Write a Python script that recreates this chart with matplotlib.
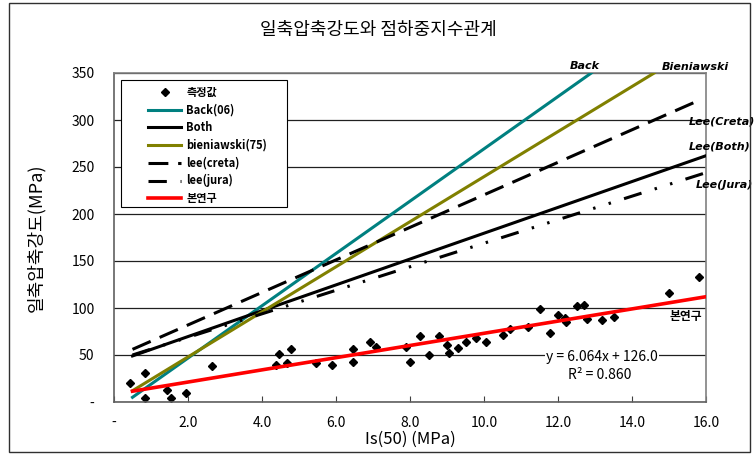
import matplotlib.pyplot as plt
from matplotlib.patches import Rectangle

plt.rcParams['font.family'] = ['Noto Sans CJK KR', 'DejaVu Sans']

# measured points: Is(50) vs UCS
is50 = [0.43, 0.84, 0.84, 1.44, 1.55, 1.94, 2.66,
        4.38, 4.46, 4.67, 4.78, 5.46, 5.88, 6.47, 6.47, 6.93, 7.07, 7.89,
        8.00, 8.28, 8.50, 8.78, 8.99, 9.06, 9.29, 9.50, 9.79, 10.06,
        10.50, 10.70, 11.20, 11.50, 11.78, 12.00, 12.19, 12.21, 12.50,
        12.70, 12.79, 13.20, 13.50, 15.00, 15.80]
ucs = [19.9, 30.5, 4.6, 12.8, 4.6, 9.9, 38.3,
       39.4, 50.7, 41.8, 56.4, 41.1, 39.0, 56.4, 42.6, 63.5, 58.2, 58.9,
       42.2, 70.2, 50.4, 70.2, 61.0, 52.5, 57.8, 63.5, 67.7, 63.5,
       71.0, 78.0, 80.0, 98.6, 73.7, 92.5, 89.7, 84.8, 102.0,
       103.0, 88.3, 87.2, 90.8, 116.0, 132.6]

# regression lines (end points)
back_x, back_y = [0.5, 12.9], [5, 350]
both_x, both_y = [0.5, 16.0], [49, 262]
bien_x, bien_y = [0.5, 14.6], [12, 350]
creta_x, creta_y = [0.5, 15.7], [56, 319]
jura_x, jura_y = [0.5, 16.0], [50, 244]
study_x, study_y = [0.5, 16.0], [11.5, 112]

xticks = [0, 2, 4, 6, 8, 10, 12, 14, 16]
xlabels = ['-', '2.0', '4.0', '6.0', '8.0', '10.0', '12.0', '14.0', '16.0']
yticks = [0, 50, 100, 150, 200, 250, 300, 350]
ylabels = ['-', '50', '100', '150', '200', '250', '300', '350']

fig = plt.figure(figsize=(7.56, 4.57), dpi=100)
ax = fig.add_axes([114 / 756, 1 - 402 / 457, 592 / 756, 329 / 457])

lw = 2.2
ax.plot(is50, ucs, 'D', color='black', ms=4, ls='none', label='측정값', zorder=2)
ax.plot(back_x, back_y, color='#008080', lw=lw, label='Back(06)', zorder=3)
ax.plot(both_x, both_y, color='black', lw=lw, label='Both', zorder=3)
ax.plot(bien_x, bien_y, color='#808000', lw=lw, label='bieniawski(75)', zorder=3)
ax.plot(creta_x, creta_y, color='black', lw=lw, dashes=(6.5, 3.2),
        label='lee(creta)', zorder=3)
ax.plot(jura_x, jura_y, color='black', lw=lw,
        dashes=(6, 4.5, 0.8, 4.5, 0.8, 4.5), label='lee(jura)', zorder=3)
ax.plot(study_x, study_y, color='red', lw=lw + 0.4, label='본연구', zorder=4)

ax.set_xlim(0, 16)
ax.set_ylim(0, 350)
ax.set_xticks(xticks, xlabels)
ax.set_yticks(yticks, ylabels)
ax.tick_params(axis='x', direction='in', length=4, pad=10, labelsize=10,
               color='#404040')
ax.tick_params(axis='y', length=0, pad=14, labelsize=10)
ax.set_axisbelow(True)
ax.grid(axis='y', color='#202020', lw=0.9)
for s in ax.spines.values():
    s.set_color('#808080')
    s.set_linewidth(1.2)
ax.spines['left'].set_color('#606060')
ax.spines['bottom'].set_color('#606060')

ax.set_xlabel('Is(50) (MPa)', fontsize=12, labelpad=1)
ax.set_ylabel('일축압축강도(MPa)', fontsize=13, labelpad=19)
fig.text(378 / 756, 1 - 30 / 457, '일축압축강도와 점하중지수관계', ha='center',
         va='center', fontsize=13)

# legend: frame drawn separately so the padding matches the original box
leg = ax.legend(loc='upper left',
                bbox_to_anchor=((148 - 114) / 592, (402 - 86) / 329),
                borderaxespad=0, borderpad=0, frameon=False,
                prop={'size': 8, 'weight': 'bold'}, labelspacing=0.42,
                handlelength=3.0, handletextpad=0.45)
ax.add_patch(Rectangle(((121 - 114) / 592, (402 - 207) / 329), 166 / 592,
                       127 / 329, transform=ax.transAxes, facecolor='white',
                       edgecolor='black', lw=0.8, zorder=5))
leg.set_zorder(6)

lab = dict(fontsize=8, fontweight='bold', style='italic', ha='center',
           va='center', clip_on=False, family=['DejaVu Sans'])
ax.text(12.73, 357.5, 'Back', **lab)
ax.text(15.7, 356.5, 'Bieniawski', **lab)
ax.text(16.43, 298, 'Lee(Creta)', **lab)
ax.text(16.38, 272, 'Lee(Both)', **lab)
ax.text(16.5, 231, 'Lee(Jura)', **lab)
ax.text(15.46, 90.5, '본연구', fontsize=8.5, fontweight='bold', ha='center',
        va='center')
ax.text(13.19, 48, 'y = 6.064x + 126.0', fontsize=10, ha='center', va='center',
        bbox=dict(facecolor='white', edgecolor='none', pad=1))
ax.text(13.14, 28.7, 'R² = 0.860', fontsize=10, ha='center', va='center')

fig.patches.append(Rectangle((9 / 756, 1 - 452 / 457), 741 / 756, 449 / 457,
                             transform=fig.transFigure, fill=False,
                             edgecolor='#303030', lw=1))

fig.savefig('out.png', dpi=100)
